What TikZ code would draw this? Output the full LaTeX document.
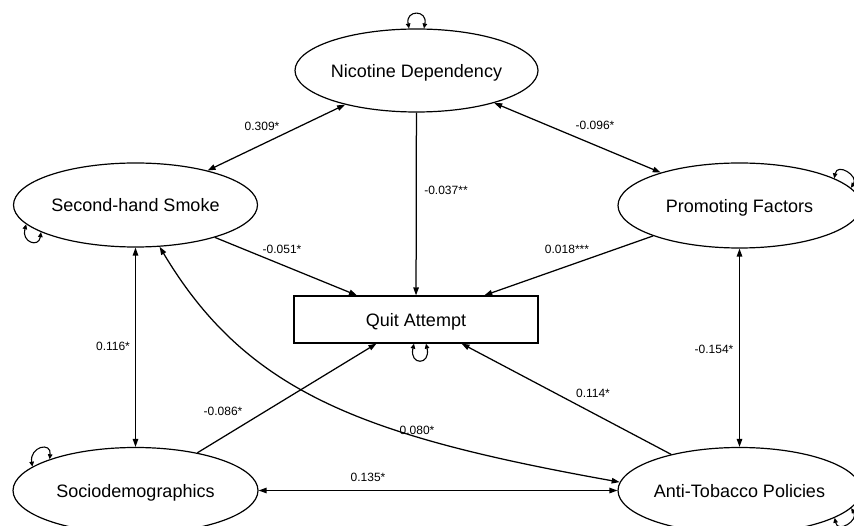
\documentclass[tikz,border=0pt]{standalone}
\usepackage{fontspec}
\setmainfont{Liberation Sans}
\usetikzlibrary{arrows.meta,shapes.geometric,calc}
\begin{document}
\begin{tikzpicture}[x=1pt,y=-1pt,
  lat/.style={ellipse,draw,line width=1.2pt,inner sep=0pt,text depth=0pt,font=\fontsize{18}{21}\selectfont},
  obs/.style={rectangle,draw,line width=1.2pt,inner sep=0pt,text depth=0pt,font=\fontsize{18}{21}\selectfont},
  lab/.style={inner sep=0pt,font=\fontsize{12}{14}\selectfont},
  conn/.style={line width=1.25pt,-{Triangle[length=8pt,width=5.5pt]}},
  dbl/.style={line width=1.25pt,{Triangle[length=8pt,width=5.5pt]}-{Triangle[length=8pt,width=5.5pt]}},
  loopar/.style={line width=1.1pt,{Triangle[length=5pt,width=4.5pt]}-{Triangle[length=5pt,width=4.5pt]}}]
\fill[white] (0,0) rectangle (854,526);
\useasboundingbox (0,0) rectangle (854,526);
\clip (0,0) rectangle (854,526);

% nodes
\node[lat,minimum width=243pt,minimum height=83pt] (nd) at (416.5,70.5) {Nicotine Dependency};
\node[lat,minimum width=244pt,minimum height=84pt] (shs) at (135.5,205) {Second-hand Smoke};
\node[lat,minimum width=243pt,minimum height=85pt] (pf) at (739.5,205.5) {Promoting Factors};
\node[obs,minimum width=244pt,minimum height=47pt] (qa) at (416,319.5) {Quit Attempt};
\node[lat,minimum width=245pt,minimum height=86pt] (socio) at (135.5,490.5) {Sociodemographics};
\node[lat,minimum width=243pt,minimum height=86pt] (atp) at (739.5,490.5) {Anti-Tobacco Policies};

% connectors
\draw[dbl] (nd) -- (shs);
\draw[dbl] (nd) -- (pf);
\draw[conn] (nd) -- (qa);
\draw[conn] (shs) -- (qa);
\draw[conn] (pf) -- (qa);
\draw[conn] (socio) -- (qa);
\draw[conn] (atp) -- (qa);
\draw[dbl] (shs) -- (socio);
\draw[dbl] (pf) -- (atp);
\draw[dbl] (socio) -- (atp);
\draw[dbl] (shs.-60) .. controls (247,393) and (363,436) .. (atp.176);

% self loops
\draw[loopar] (nd.100) .. controls +(-4,-19) and +(4,-19) .. (nd.80);
\draw[loopar] ($(qa.south)+(-2,0)$) .. controls +(-5,22) and +(5,22) .. ($(qa.south)+(10,0)$);
\draw[loopar] (shs.190) .. controls +(-5,18) and +(-2,16) .. (shs.196);
\draw[loopar] (socio.167) .. controls +(-3,-20) and +(2,-18) .. (socio.160);
\draw[loopar] (pf.16) .. controls +(3,-16) and +(8,-12) .. (pf.9);
\draw[loopar] (atp.-16) .. controls +(3,16) and +(8,12) .. (atp.-9);

% labels
\node[lab] (l309) at (262,126) {0.309*};
\node[lab] (l096) at (595,125) {-0.096*};
\node[lab] (l037) at (446,190) {-0.037**};
\node[lab] (l051) at (282,249) {-0.051*};
\node[lab] (l018) at (567,249) {0.018***};
\node[lab] (l116) at (113,346) {0.116*};
\node[lab] (l154) at (714,349) {-0.154*};
\node[lab] (l086) at (223,411) {-0.086*};
\node[lab] (l080) at (417,430) {0.080*};
\node[lab] (l135) at (368,477) {0.135*};
\node[lab] (l114) at (593,393) {0.114*};
\end{tikzpicture}
\end{document}
